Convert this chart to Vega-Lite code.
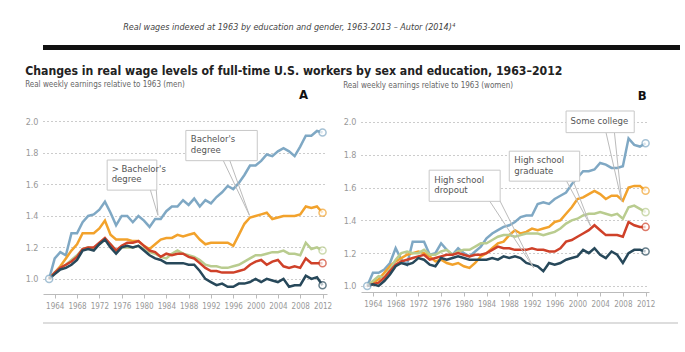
{
"$schema": "https://vega.github.io/schema/vega-lite/v6.json",
"background": "white",
"padding": {"left": 25, "top": 23, "right": 10, "bottom": 5},
"spacing": 15,
"config": {"font": "DejaVu Sans Condensed, Roboto, sans-serif", "view": {"stroke": null}, "axis": {"labelOverlap": false}},
"title": {"text": "Real wages indexed at 1963 by education and gender, 1963-2013 – Autor (2014)⁴", "fontStyle": "italic", "fontWeight": "normal", "fontSize": 9, "color": "#444", "anchor": "start", "dx": 98, "offset": 13, "frame": "bounds"},
"datasets": {
"men": [
{"year":1963,"edu":"adv","wage":1.00},{"year":1964,"edu":"adv","wage":1.13},{"year":1965,"edu":"adv","wage":1.17},{"year":1966,"edu":"adv","wage":1.15},{"year":1967,"edu":"adv","wage":1.29},{"year":1968,"edu":"adv","wage":1.29},{"year":1969,"edu":"adv","wage":1.36},{"year":1970,"edu":"adv","wage":1.40},{"year":1971,"edu":"adv","wage":1.41},{"year":1972,"edu":"adv","wage":1.44},
{"year":1973,"edu":"adv","wage":1.49},{"year":1974,"edu":"adv","wage":1.42},{"year":1975,"edu":"adv","wage":1.34},{"year":1976,"edu":"adv","wage":1.40},{"year":1977,"edu":"adv","wage":1.40},{"year":1978,"edu":"adv","wage":1.36},{"year":1979,"edu":"adv","wage":1.40},{"year":1980,"edu":"adv","wage":1.37},{"year":1981,"edu":"adv","wage":1.33},{"year":1982,"edu":"adv","wage":1.38},
{"year":1983,"edu":"adv","wage":1.38},{"year":1984,"edu":"adv","wage":1.43},{"year":1985,"edu":"adv","wage":1.46},{"year":1986,"edu":"adv","wage":1.46},{"year":1987,"edu":"adv","wage":1.50},{"year":1988,"edu":"adv","wage":1.47},{"year":1989,"edu":"adv","wage":1.51},{"year":1990,"edu":"adv","wage":1.46},{"year":1991,"edu":"adv","wage":1.50},{"year":1992,"edu":"adv","wage":1.48},
{"year":1993,"edu":"adv","wage":1.52},{"year":1994,"edu":"adv","wage":1.55},{"year":1995,"edu":"adv","wage":1.59},{"year":1996,"edu":"adv","wage":1.57},{"year":1997,"edu":"adv","wage":1.61},{"year":1998,"edu":"adv","wage":1.66},{"year":1999,"edu":"adv","wage":1.72},{"year":2000,"edu":"adv","wage":1.72},{"year":2001,"edu":"adv","wage":1.75},{"year":2002,"edu":"adv","wage":1.79},
{"year":2003,"edu":"adv","wage":1.78},{"year":2004,"edu":"adv","wage":1.81},{"year":2005,"edu":"adv","wage":1.83},{"year":2006,"edu":"adv","wage":1.81},{"year":2007,"edu":"adv","wage":1.78},{"year":2008,"edu":"adv","wage":1.84},{"year":2009,"edu":"adv","wage":1.91},{"year":2010,"edu":"adv","wage":1.91},{"year":2011,"edu":"adv","wage":1.94},{"year":2012,"edu":"adv","wage":1.93},
{"year":1963,"edu":"ba","wage":1.00},{"year":1964,"edu":"ba","wage":1.04},{"year":1965,"edu":"ba","wage":1.08},{"year":1966,"edu":"ba","wage":1.13},{"year":1967,"edu":"ba","wage":1.18},{"year":1968,"edu":"ba","wage":1.22},{"year":1969,"edu":"ba","wage":1.29},{"year":1970,"edu":"ba","wage":1.29},{"year":1971,"edu":"ba","wage":1.29},{"year":1972,"edu":"ba","wage":1.32},
{"year":1973,"edu":"ba","wage":1.37},{"year":1974,"edu":"ba","wage":1.28},{"year":1975,"edu":"ba","wage":1.25},{"year":1976,"edu":"ba","wage":1.25},{"year":1977,"edu":"ba","wage":1.25},{"year":1978,"edu":"ba","wage":1.24},{"year":1979,"edu":"ba","wage":1.24},{"year":1980,"edu":"ba","wage":1.21},{"year":1981,"edu":"ba","wage":1.19},{"year":1982,"edu":"ba","wage":1.22},
{"year":1983,"edu":"ba","wage":1.25},{"year":1984,"edu":"ba","wage":1.26},{"year":1985,"edu":"ba","wage":1.26},{"year":1986,"edu":"ba","wage":1.28},{"year":1987,"edu":"ba","wage":1.27},{"year":1988,"edu":"ba","wage":1.28},{"year":1989,"edu":"ba","wage":1.29},{"year":1990,"edu":"ba","wage":1.25},{"year":1991,"edu":"ba","wage":1.22},{"year":1992,"edu":"ba","wage":1.23},
{"year":1993,"edu":"ba","wage":1.23},{"year":1994,"edu":"ba","wage":1.23},{"year":1995,"edu":"ba","wage":1.23},{"year":1996,"edu":"ba","wage":1.21},{"year":1997,"edu":"ba","wage":1.28},{"year":1998,"edu":"ba","wage":1.35},{"year":1999,"edu":"ba","wage":1.39},{"year":2000,"edu":"ba","wage":1.40},{"year":2001,"edu":"ba","wage":1.41},{"year":2002,"edu":"ba","wage":1.42},
{"year":2003,"edu":"ba","wage":1.38},{"year":2004,"edu":"ba","wage":1.39},{"year":2005,"edu":"ba","wage":1.40},{"year":2006,"edu":"ba","wage":1.40},{"year":2007,"edu":"ba","wage":1.40},{"year":2008,"edu":"ba","wage":1.41},{"year":2009,"edu":"ba","wage":1.46},{"year":2010,"edu":"ba","wage":1.45},{"year":2011,"edu":"ba","wage":1.46},{"year":2012,"edu":"ba","wage":1.42},
{"year":1963,"edu":"sc","wage":1.00},{"year":1964,"edu":"sc","wage":1.04},{"year":1965,"edu":"sc","wage":1.07},{"year":1966,"edu":"sc","wage":1.09},{"year":1967,"edu":"sc","wage":1.12},{"year":1968,"edu":"sc","wage":1.15},{"year":1969,"edu":"sc","wage":1.19},{"year":1970,"edu":"sc","wage":1.20},{"year":1971,"edu":"sc","wage":1.19},{"year":1972,"edu":"sc","wage":1.22},
{"year":1973,"edu":"sc","wage":1.25},{"year":1974,"edu":"sc","wage":1.22},{"year":1975,"edu":"sc","wage":1.18},{"year":1976,"edu":"sc","wage":1.20},{"year":1977,"edu":"sc","wage":1.20},{"year":1978,"edu":"sc","wage":1.20},{"year":1979,"edu":"sc","wage":1.21},{"year":1980,"edu":"sc","wage":1.19},{"year":1981,"edu":"sc","wage":1.17},{"year":1982,"edu":"sc","wage":1.16},
{"year":1983,"edu":"sc","wage":1.14},{"year":1984,"edu":"sc","wage":1.13},{"year":1985,"edu":"sc","wage":1.16},{"year":1986,"edu":"sc","wage":1.18},{"year":1987,"edu":"sc","wage":1.16},{"year":1988,"edu":"sc","wage":1.15},{"year":1989,"edu":"sc","wage":1.14},{"year":1990,"edu":"sc","wage":1.12},{"year":1991,"edu":"sc","wage":1.09},{"year":1992,"edu":"sc","wage":1.08},
{"year":1993,"edu":"sc","wage":1.08},{"year":1994,"edu":"sc","wage":1.07},{"year":1995,"edu":"sc","wage":1.07},{"year":1996,"edu":"sc","wage":1.08},{"year":1997,"edu":"sc","wage":1.09},{"year":1998,"edu":"sc","wage":1.11},{"year":1999,"edu":"sc","wage":1.13},{"year":2000,"edu":"sc","wage":1.15},{"year":2001,"edu":"sc","wage":1.15},{"year":2002,"edu":"sc","wage":1.16},
{"year":2003,"edu":"sc","wage":1.17},{"year":2004,"edu":"sc","wage":1.17},{"year":2005,"edu":"sc","wage":1.18},{"year":2006,"edu":"sc","wage":1.16},{"year":2007,"edu":"sc","wage":1.16},{"year":2008,"edu":"sc","wage":1.15},{"year":2009,"edu":"sc","wage":1.23},{"year":2010,"edu":"sc","wage":1.19},{"year":2011,"edu":"sc","wage":1.20},{"year":2012,"edu":"sc","wage":1.18},
{"year":1963,"edu":"hsg","wage":1.00},{"year":1964,"edu":"hsg","wage":1.04},{"year":1965,"edu":"hsg","wage":1.07},{"year":1966,"edu":"hsg","wage":1.09},{"year":1967,"edu":"hsg","wage":1.11},{"year":1968,"edu":"hsg","wage":1.14},{"year":1969,"edu":"hsg","wage":1.19},{"year":1970,"edu":"hsg","wage":1.20},{"year":1971,"edu":"hsg","wage":1.20},{"year":1972,"edu":"hsg","wage":1.23},
{"year":1973,"edu":"hsg","wage":1.26},{"year":1974,"edu":"hsg","wage":1.22},{"year":1975,"edu":"hsg","wage":1.18},{"year":1976,"edu":"hsg","wage":1.21},{"year":1977,"edu":"hsg","wage":1.23},{"year":1978,"edu":"hsg","wage":1.23},{"year":1979,"edu":"hsg","wage":1.24},{"year":1980,"edu":"hsg","wage":1.21},{"year":1981,"edu":"hsg","wage":1.18},{"year":1982,"edu":"hsg","wage":1.17},
{"year":1983,"edu":"hsg","wage":1.14},{"year":1984,"edu":"hsg","wage":1.16},{"year":1985,"edu":"hsg","wage":1.15},{"year":1986,"edu":"hsg","wage":1.16},{"year":1987,"edu":"hsg","wage":1.16},{"year":1988,"edu":"hsg","wage":1.14},{"year":1989,"edu":"hsg","wage":1.13},{"year":1990,"edu":"hsg","wage":1.10},{"year":1991,"edu":"hsg","wage":1.07},{"year":1992,"edu":"hsg","wage":1.05},
{"year":1993,"edu":"hsg","wage":1.05},{"year":1994,"edu":"hsg","wage":1.04},{"year":1995,"edu":"hsg","wage":1.04},{"year":1996,"edu":"hsg","wage":1.04},{"year":1997,"edu":"hsg","wage":1.05},{"year":1998,"edu":"hsg","wage":1.06},{"year":1999,"edu":"hsg","wage":1.09},{"year":2000,"edu":"hsg","wage":1.11},{"year":2001,"edu":"hsg","wage":1.12},{"year":2002,"edu":"hsg","wage":1.09},
{"year":2003,"edu":"hsg","wage":1.11},{"year":2004,"edu":"hsg","wage":1.12},{"year":2005,"edu":"hsg","wage":1.08},{"year":2006,"edu":"hsg","wage":1.07},{"year":2007,"edu":"hsg","wage":1.08},{"year":2008,"edu":"hsg","wage":1.07},{"year":2009,"edu":"hsg","wage":1.13},{"year":2010,"edu":"hsg","wage":1.10},{"year":2011,"edu":"hsg","wage":1.10},{"year":2012,"edu":"hsg","wage":1.10},
{"year":1963,"edu":"hsd","wage":1.00},{"year":1964,"edu":"hsd","wage":1.03},{"year":1965,"edu":"hsd","wage":1.06},{"year":1966,"edu":"hsd","wage":1.07},{"year":1967,"edu":"hsd","wage":1.09},{"year":1968,"edu":"hsd","wage":1.12},{"year":1969,"edu":"hsd","wage":1.18},{"year":1970,"edu":"hsd","wage":1.19},{"year":1971,"edu":"hsd","wage":1.18},{"year":1972,"edu":"hsd","wage":1.22},
{"year":1973,"edu":"hsd","wage":1.25},{"year":1974,"edu":"hsd","wage":1.20},{"year":1975,"edu":"hsd","wage":1.16},{"year":1976,"edu":"hsd","wage":1.20},{"year":1977,"edu":"hsd","wage":1.21},{"year":1978,"edu":"hsd","wage":1.20},{"year":1979,"edu":"hsd","wage":1.21},{"year":1980,"edu":"hsd","wage":1.18},{"year":1981,"edu":"hsd","wage":1.15},{"year":1982,"edu":"hsd","wage":1.13},
{"year":1983,"edu":"hsd","wage":1.12},{"year":1984,"edu":"hsd","wage":1.10},{"year":1985,"edu":"hsd","wage":1.10},{"year":1986,"edu":"hsd","wage":1.10},{"year":1987,"edu":"hsd","wage":1.10},{"year":1988,"edu":"hsd","wage":1.09},{"year":1989,"edu":"hsd","wage":1.09},{"year":1990,"edu":"hsd","wage":1.05},{"year":1991,"edu":"hsd","wage":1.00},{"year":1992,"edu":"hsd","wage":0.98},
{"year":1993,"edu":"hsd","wage":0.96},{"year":1994,"edu":"hsd","wage":0.97},{"year":1995,"edu":"hsd","wage":0.95},{"year":1996,"edu":"hsd","wage":0.95},{"year":1997,"edu":"hsd","wage":0.97},{"year":1998,"edu":"hsd","wage":0.97},{"year":1999,"edu":"hsd","wage":0.98},{"year":2000,"edu":"hsd","wage":1.00},{"year":2001,"edu":"hsd","wage":0.98},{"year":2002,"edu":"hsd","wage":1.00},
{"year":2003,"edu":"hsd","wage":0.99},{"year":2004,"edu":"hsd","wage":0.98},{"year":2005,"edu":"hsd","wage":1.00},{"year":2006,"edu":"hsd","wage":0.95},{"year":2007,"edu":"hsd","wage":0.96},{"year":2008,"edu":"hsd","wage":0.96},{"year":2009,"edu":"hsd","wage":1.02},{"year":2010,"edu":"hsd","wage":1.00},{"year":2011,"edu":"hsd","wage":1.01},{"year":2012,"edu":"hsd","wage":0.96}
],
"women": [
{"year":1963,"edu":"adv","wage":1.00},{"year":1964,"edu":"adv","wage":1.08},{"year":1965,"edu":"adv","wage":1.08},{"year":1966,"edu":"adv","wage":1.10},{"year":1967,"edu":"adv","wage":1.14},{"year":1968,"edu":"adv","wage":1.23},{"year":1969,"edu":"adv","wage":1.16},{"year":1970,"edu":"adv","wage":1.13},{"year":1971,"edu":"adv","wage":1.27},{"year":1972,"edu":"adv","wage":1.27},
{"year":1973,"edu":"adv","wage":1.27},{"year":1974,"edu":"adv","wage":1.19},{"year":1975,"edu":"adv","wage":1.20},{"year":1976,"edu":"adv","wage":1.26},{"year":1977,"edu":"adv","wage":1.22},{"year":1978,"edu":"adv","wage":1.19},{"year":1979,"edu":"adv","wage":1.23},{"year":1980,"edu":"adv","wage":1.20},{"year":1981,"edu":"adv","wage":1.18},{"year":1982,"edu":"adv","wage":1.21},
{"year":1983,"edu":"adv","wage":1.24},{"year":1984,"edu":"adv","wage":1.29},{"year":1985,"edu":"adv","wage":1.32},{"year":1986,"edu":"adv","wage":1.34},{"year":1987,"edu":"adv","wage":1.36},{"year":1988,"edu":"adv","wage":1.37},{"year":1989,"edu":"adv","wage":1.39},{"year":1990,"edu":"adv","wage":1.42},{"year":1991,"edu":"adv","wage":1.43},{"year":1992,"edu":"adv","wage":1.43},
{"year":1993,"edu":"adv","wage":1.50},{"year":1994,"edu":"adv","wage":1.51},{"year":1995,"edu":"adv","wage":1.50},{"year":1996,"edu":"adv","wage":1.53},{"year":1997,"edu":"adv","wage":1.55},{"year":1998,"edu":"adv","wage":1.57},{"year":1999,"edu":"adv","wage":1.62},{"year":2000,"edu":"adv","wage":1.66},{"year":2001,"edu":"adv","wage":1.70},{"year":2002,"edu":"adv","wage":1.70},
{"year":2003,"edu":"adv","wage":1.71},{"year":2004,"edu":"adv","wage":1.75},{"year":2005,"edu":"adv","wage":1.74},{"year":2006,"edu":"adv","wage":1.72},{"year":2007,"edu":"adv","wage":1.72},{"year":2008,"edu":"adv","wage":1.73},{"year":2009,"edu":"adv","wage":1.90},{"year":2010,"edu":"adv","wage":1.86},{"year":2011,"edu":"adv","wage":1.85},{"year":2012,"edu":"adv","wage":1.87},
{"year":1963,"edu":"ba","wage":1.00},{"year":1964,"edu":"ba","wage":1.02},{"year":1965,"edu":"ba","wage":1.04},{"year":1966,"edu":"ba","wage":1.08},{"year":1967,"edu":"ba","wage":1.12},{"year":1968,"edu":"ba","wage":1.15},{"year":1969,"edu":"ba","wage":1.17},{"year":1970,"edu":"ba","wage":1.19},{"year":1971,"edu":"ba","wage":1.20},{"year":1972,"edu":"ba","wage":1.21},
{"year":1973,"edu":"ba","wage":1.20},{"year":1974,"edu":"ba","wage":1.18},{"year":1975,"edu":"ba","wage":1.15},{"year":1976,"edu":"ba","wage":1.16},{"year":1977,"edu":"ba","wage":1.14},{"year":1978,"edu":"ba","wage":1.13},{"year":1979,"edu":"ba","wage":1.14},{"year":1980,"edu":"ba","wage":1.12},{"year":1981,"edu":"ba","wage":1.11},{"year":1982,"edu":"ba","wage":1.14},
{"year":1983,"edu":"ba","wage":1.18},{"year":1984,"edu":"ba","wage":1.20},{"year":1985,"edu":"ba","wage":1.23},{"year":1986,"edu":"ba","wage":1.26},{"year":1987,"edu":"ba","wage":1.27},{"year":1988,"edu":"ba","wage":1.31},{"year":1989,"edu":"ba","wage":1.34},{"year":1990,"edu":"ba","wage":1.32},{"year":1991,"edu":"ba","wage":1.33},{"year":1992,"edu":"ba","wage":1.35},
{"year":1993,"edu":"ba","wage":1.34},{"year":1994,"edu":"ba","wage":1.35},{"year":1995,"edu":"ba","wage":1.36},{"year":1996,"edu":"ba","wage":1.39},{"year":1997,"edu":"ba","wage":1.40},{"year":1998,"edu":"ba","wage":1.44},{"year":1999,"edu":"ba","wage":1.48},{"year":2000,"edu":"ba","wage":1.53},{"year":2001,"edu":"ba","wage":1.54},{"year":2002,"edu":"ba","wage":1.56},
{"year":2003,"edu":"ba","wage":1.58},{"year":2004,"edu":"ba","wage":1.56},{"year":2005,"edu":"ba","wage":1.53},{"year":2006,"edu":"ba","wage":1.55},{"year":2007,"edu":"ba","wage":1.55},{"year":2008,"edu":"ba","wage":1.52},{"year":2009,"edu":"ba","wage":1.60},{"year":2010,"edu":"ba","wage":1.61},{"year":2011,"edu":"ba","wage":1.61},{"year":2012,"edu":"ba","wage":1.58},
{"year":1963,"edu":"sc","wage":1.00},{"year":1964,"edu":"sc","wage":1.03},{"year":1965,"edu":"sc","wage":1.06},{"year":1966,"edu":"sc","wage":1.05},{"year":1967,"edu":"sc","wage":1.10},{"year":1968,"edu":"sc","wage":1.16},{"year":1969,"edu":"sc","wage":1.20},{"year":1970,"edu":"sc","wage":1.21},{"year":1971,"edu":"sc","wage":1.20},{"year":1972,"edu":"sc","wage":1.20},
{"year":1973,"edu":"sc","wage":1.22},{"year":1974,"edu":"sc","wage":1.19},{"year":1975,"edu":"sc","wage":1.19},{"year":1976,"edu":"sc","wage":1.21},{"year":1977,"edu":"sc","wage":1.22},{"year":1978,"edu":"sc","wage":1.19},{"year":1979,"edu":"sc","wage":1.21},{"year":1980,"edu":"sc","wage":1.22},{"year":1981,"edu":"sc","wage":1.22},{"year":1982,"edu":"sc","wage":1.24},
{"year":1983,"edu":"sc","wage":1.26},{"year":1984,"edu":"sc","wage":1.26},{"year":1985,"edu":"sc","wage":1.28},{"year":1986,"edu":"sc","wage":1.30},{"year":1987,"edu":"sc","wage":1.31},{"year":1988,"edu":"sc","wage":1.31},{"year":1989,"edu":"sc","wage":1.30},{"year":1990,"edu":"sc","wage":1.31},{"year":1991,"edu":"sc","wage":1.32},{"year":1992,"edu":"sc","wage":1.32},
{"year":1993,"edu":"sc","wage":1.32},{"year":1994,"edu":"sc","wage":1.31},{"year":1995,"edu":"sc","wage":1.32},{"year":1996,"edu":"sc","wage":1.33},{"year":1997,"edu":"sc","wage":1.35},{"year":1998,"edu":"sc","wage":1.38},{"year":1999,"edu":"sc","wage":1.40},{"year":2000,"edu":"sc","wage":1.41},{"year":2001,"edu":"sc","wage":1.43},{"year":2002,"edu":"sc","wage":1.44},
{"year":2003,"edu":"sc","wage":1.44},{"year":2004,"edu":"sc","wage":1.45},{"year":2005,"edu":"sc","wage":1.44},{"year":2006,"edu":"sc","wage":1.43},{"year":2007,"edu":"sc","wage":1.44},{"year":2008,"edu":"sc","wage":1.41},{"year":2009,"edu":"sc","wage":1.48},{"year":2010,"edu":"sc","wage":1.49},{"year":2011,"edu":"sc","wage":1.47},{"year":2012,"edu":"sc","wage":1.45},
{"year":1963,"edu":"hsg","wage":1.00},{"year":1964,"edu":"hsg","wage":1.01},{"year":1965,"edu":"hsg","wage":1.02},{"year":1966,"edu":"hsg","wage":1.05},{"year":1967,"edu":"hsg","wage":1.09},{"year":1968,"edu":"hsg","wage":1.13},{"year":1969,"edu":"hsg","wage":1.15},{"year":1970,"edu":"hsg","wage":1.16},{"year":1971,"edu":"hsg","wage":1.17},{"year":1972,"edu":"hsg","wage":1.18},
{"year":1973,"edu":"hsg","wage":1.19},{"year":1974,"edu":"hsg","wage":1.16},{"year":1975,"edu":"hsg","wage":1.17},{"year":1976,"edu":"hsg","wage":1.18},{"year":1977,"edu":"hsg","wage":1.19},{"year":1978,"edu":"hsg","wage":1.19},{"year":1979,"edu":"hsg","wage":1.20},{"year":1980,"edu":"hsg","wage":1.19},{"year":1981,"edu":"hsg","wage":1.18},{"year":1982,"edu":"hsg","wage":1.19},
{"year":1983,"edu":"hsg","wage":1.19},{"year":1984,"edu":"hsg","wage":1.20},{"year":1985,"edu":"hsg","wage":1.22},{"year":1986,"edu":"hsg","wage":1.24},{"year":1987,"edu":"hsg","wage":1.23},{"year":1988,"edu":"hsg","wage":1.23},{"year":1989,"edu":"hsg","wage":1.22},{"year":1990,"edu":"hsg","wage":1.22},{"year":1991,"edu":"hsg","wage":1.22},{"year":1992,"edu":"hsg","wage":1.23},
{"year":1993,"edu":"hsg","wage":1.22},{"year":1994,"edu":"hsg","wage":1.22},{"year":1995,"edu":"hsg","wage":1.21},{"year":1996,"edu":"hsg","wage":1.21},{"year":1997,"edu":"hsg","wage":1.23},{"year":1998,"edu":"hsg","wage":1.27},{"year":1999,"edu":"hsg","wage":1.28},{"year":2000,"edu":"hsg","wage":1.30},{"year":2001,"edu":"hsg","wage":1.32},{"year":2002,"edu":"hsg","wage":1.34},
{"year":2003,"edu":"hsg","wage":1.37},{"year":2004,"edu":"hsg","wage":1.34},{"year":2005,"edu":"hsg","wage":1.31},{"year":2006,"edu":"hsg","wage":1.31},{"year":2007,"edu":"hsg","wage":1.31},{"year":2008,"edu":"hsg","wage":1.30},{"year":2009,"edu":"hsg","wage":1.39},{"year":2010,"edu":"hsg","wage":1.37},{"year":2011,"edu":"hsg","wage":1.36},{"year":2012,"edu":"hsg","wage":1.36},
{"year":1963,"edu":"hsd","wage":1.00},{"year":1964,"edu":"hsd","wage":1.01},{"year":1965,"edu":"hsd","wage":1.00},{"year":1966,"edu":"hsd","wage":1.03},{"year":1967,"edu":"hsd","wage":1.07},{"year":1968,"edu":"hsd","wage":1.12},{"year":1969,"edu":"hsd","wage":1.14},{"year":1970,"edu":"hsd","wage":1.13},{"year":1971,"edu":"hsd","wage":1.14},{"year":1972,"edu":"hsd","wage":1.17},
{"year":1973,"edu":"hsd","wage":1.16},{"year":1974,"edu":"hsd","wage":1.13},{"year":1975,"edu":"hsd","wage":1.12},{"year":1976,"edu":"hsd","wage":1.17},{"year":1977,"edu":"hsd","wage":1.16},{"year":1978,"edu":"hsd","wage":1.17},{"year":1979,"edu":"hsd","wage":1.18},{"year":1980,"edu":"hsd","wage":1.17},{"year":1981,"edu":"hsd","wage":1.16},{"year":1982,"edu":"hsd","wage":1.16},
{"year":1983,"edu":"hsd","wage":1.16},{"year":1984,"edu":"hsd","wage":1.16},{"year":1985,"edu":"hsd","wage":1.17},{"year":1986,"edu":"hsd","wage":1.16},{"year":1987,"edu":"hsd","wage":1.18},{"year":1988,"edu":"hsd","wage":1.17},{"year":1989,"edu":"hsd","wage":1.18},{"year":1990,"edu":"hsd","wage":1.17},{"year":1991,"edu":"hsd","wage":1.14},{"year":1992,"edu":"hsd","wage":1.13},
{"year":1993,"edu":"hsd","wage":1.12},{"year":1994,"edu":"hsd","wage":1.09},{"year":1995,"edu":"hsd","wage":1.14},{"year":1996,"edu":"hsd","wage":1.13},{"year":1997,"edu":"hsd","wage":1.14},{"year":1998,"edu":"hsd","wage":1.16},{"year":1999,"edu":"hsd","wage":1.17},{"year":2000,"edu":"hsd","wage":1.18},{"year":2001,"edu":"hsd","wage":1.22},{"year":2002,"edu":"hsd","wage":1.20},
{"year":2003,"edu":"hsd","wage":1.23},{"year":2004,"edu":"hsd","wage":1.19},{"year":2005,"edu":"hsd","wage":1.17},{"year":2006,"edu":"hsd","wage":1.21},{"year":2007,"edu":"hsd","wage":1.19},{"year":2008,"edu":"hsd","wage":1.14},{"year":2009,"edu":"hsd","wage":1.20},{"year":2010,"edu":"hsd","wage":1.22},{"year":2011,"edu":"hsd","wage":1.22},{"year":2012,"edu":"hsd","wage":1.21}
],
"men_boxes": [
{"x1":1973.4,"x2":1982.3,"y1":1.564,"y2":1.755},
{"x1":1987.5,"x2":2000.3,"y1":1.751,"y2":1.943}
],
"men_tails": [
{"x1":1981.1,"y1":1.57,"x2":1982.5,"y2":1.404},
{"x1":1982.2,"y1":1.57,"x2":1982.5,"y2":1.404},
{"x1":1994.1,"y1":1.76,"x2":1998.9,"y2":1.404},
{"x1":1995.3,"y1":1.76,"x2":1998.9,"y2":1.404}
],
"men_labels": [
{"x":1974.2,"y":1.696,"label":"> Bachelor's"},
{"x":1974.2,"y":1.632,"label":"degree"},
{"x":1988.4,"y":1.887,"label":"Bachelor's"},
{"x":1988.4,"y":1.817,"label":"degree"}
],
"women_boxes": [
{"x1":1973.9,"x2":1986.4,"y1":1.516,"y2":1.706},
{"x1":1988.0,"x2":2000.4,"y1":1.639,"y2":1.822},
{"x1":1998.0,"x2":2010.0,"y1":1.935,"y2":2.067}
],
"women_tails": [
{"x1":1984.5,"y1":1.52,"x2":1992.3,"y2":1.11},
{"x1":1986.2,"y1":1.53,"x2":1992.3,"y2":1.11},
{"x1":1998.0,"y1":1.645,"x2":2002.3,"y2":1.367},
{"x1":1999.2,"y1":1.645,"x2":2002.3,"y2":1.367},
{"x1":2005.0,"y1":1.94,"x2":2007.8,"y2":1.516},
{"x1":2006.5,"y1":1.94,"x2":2007.8,"y2":1.516}
],
"women_labels": [
{"x":1974.8,"y":1.649,"label":"High school"},
{"x":1974.8,"y":1.584,"label":"dropout"},
{"x":1988.9,"y":1.771,"label":"High school"},
{"x":1988.9,"y":1.704,"label":"graduate"},
{"x":1998.8,"y":2.003,"label":"Some college"}
],
"men_letter": [{"x":2008.6,"y":2.166,"label":"A"}],
"women_letter": [{"x":2011.4,"y":2.158,"label":"B"}]
},
"vconcat": [
{"width": 637, "height": 5, "data": {"values": [{}]}, "mark": {"type": "rect", "color": "#111"}, "encoding": {}},
{
"spacing": 12,
"vconcat": [
{
"title": {"text": "Changes in real wage levels of full-time U.S. workers by sex and education, 1963–2012", "anchor": "start", "frame": "bounds", "fontSize": 12.2, "fontWeight": "bold", "color": "#222", "offset": 4},
"spacing": 11,
"hconcat": [
{
"width": 284, "height": 204,
"title": {"text": "Real weekly earnings relative to 1963 (men)", "anchor": "start", "frame": "bounds", "fontSize": 8, "fontWeight": "normal", "color": "#666", "offset": 0},
"layer": [
{"data": {"name": "men"}, "mark": {"type": "line", "strokeWidth": 2.5}, "encoding": {
"x": {"field": "year", "type": "quantitative", "scale": {"domain": [1961.9, 2012.8], "nice": false, "zero": false}, "axis": {"values": [1964,1968,1972,1976,1980,1984,1988,1992,1996,2000,2004,2008,2012], "tickCount": 20, "format": "d", "title": null, "grid": false, "domainColor": "#bbb", "tickColor": "#bbb", "tickSize": 4, "labelColor": "#999", "labelFontSize": 8, "labelPadding": 4, "labelFlush": false, "labelOverlap": false}},
"y": {"field": "wage", "type": "quantitative", "scale": {"domain": [0.904, 2.2], "nice": false, "zero": false}, "axis": {"values": [1, 1.2, 1.4, 1.6, 1.8, 2], "tickCount": 10, "format": ".1f", "title": null, "domain": false, "ticks": false, "gridDash": [1, 3], "gridColor": "#999", "labelColor": "#999", "labelFontSize": 9, "labelPadding": 5}},
"color": {"field": "edu", "type": "nominal", "scale": {"domain": ["adv","ba","sc","hsg","hsd"], "range": ["#7fa8c4","#f2a22c","#b9cc8f","#cf4129","#27485a"]}, "legend": null}}},
{"data": {"name": "men"}, "transform": [{"filter": "datum.year == 2012 || (datum.year == 1963 && datum.edu == 'adv')"}], "mark": {"type": "point", "filled": true, "fill": "white", "size": 50, "strokeWidth": 1.5}, "encoding": {
"x": {"field": "year", "type": "quantitative"},
"y": {"field": "wage", "type": "quantitative"},
"stroke": {"field": "edu", "type": "nominal", "scale": {"domain": ["adv","ba","sc","hsg","hsd"], "range": ["#7fa8c4","#f2a22c","#b9cc8f","#cf4129","#27485a"]}, "legend": null}}},
{"data": {"name": "men_tails"}, "mark": {"type": "rule", "color": "#bbb", "strokeWidth": 1}, "encoding": {"x": {"field": "x1", "type": "quantitative"}, "y": {"field": "y1", "type": "quantitative"}, "x2": {"field": "x2"}, "y2": {"field": "y2"}}},
{"data": {"name": "men_boxes"}, "mark": {"type": "rect", "fill": "white", "stroke": "#c8c8c8", "strokeWidth": 1}, "encoding": {"x": {"field": "x1", "type": "quantitative"}, "x2": {"field": "x2"}, "y": {"field": "y1", "type": "quantitative"}, "y2": {"field": "y2"}}},
{"data": {"name": "men_labels"}, "mark": {"type": "text", "align": "left", "baseline": "middle", "fontSize": 9.5, "color": "#555"}, "encoding": {"x": {"field": "x", "type": "quantitative"}, "y": {"field": "y", "type": "quantitative"}, "text": {"field": "label"}}},
{"data": {"name": "men_letter"}, "mark": {"type": "text", "align": "center", "baseline": "middle", "fontSize": 13, "fontWeight": "bold", "color": "#111"}, "encoding": {"x": {"field": "x", "type": "quantitative"}, "y": {"field": "y", "type": "quantitative"}, "text": {"field": "label"}}}
]
},
{
"width": 288, "height": 202,
"title": {"text": "Real weekly earnings relative to 1963 (women)", "anchor": "start", "frame": "bounds", "fontSize": 8, "fontWeight": "normal", "color": "#666", "offset": 0},
"layer": [
{"data": {"name": "women"}, "mark": {"type": "line", "strokeWidth": 2.5}, "encoding": {
"x": {"field": "year", "type": "quantitative", "scale": {"domain": [1961.9, 2012.6], "nice": false, "zero": false}, "axis": {"values": [1964,1968,1972,1976,1980,1984,1988,1992,1996,2000,2004,2008,2012], "tickCount": 20, "format": "d", "title": null, "grid": false, "domainColor": "#bbb", "tickColor": "#bbb", "tickSize": 4, "labelColor": "#999", "labelFontSize": 8, "labelPadding": 4, "labelFlush": false, "labelOverlap": false}},
"y": {"field": "wage", "type": "quantitative", "scale": {"domain": [0.963, 2.195], "nice": false, "zero": false}, "axis": {"values": [1, 1.2, 1.4, 1.6, 1.8, 2], "tickCount": 10, "format": ".1f", "title": null, "domain": false, "ticks": false, "gridDash": [1, 3], "gridColor": "#999", "labelColor": "#999", "labelFontSize": 9, "labelPadding": 5}},
"color": {"field": "edu", "type": "nominal", "scale": {"domain": ["adv","ba","sc","hsg","hsd"], "range": ["#7fa8c4","#f2a22c","#b9cc8f","#cf4129","#27485a"]}, "legend": null}}},
{"data": {"name": "women"}, "transform": [{"filter": "datum.year == 2012 || (datum.year == 1963 && datum.edu == 'adv')"}], "mark": {"type": "point", "filled": true, "fill": "white", "size": 50, "strokeWidth": 1.5}, "encoding": {
"x": {"field": "year", "type": "quantitative"},
"y": {"field": "wage", "type": "quantitative"},
"stroke": {"field": "edu", "type": "nominal", "scale": {"domain": ["adv","ba","sc","hsg","hsd"], "range": ["#7fa8c4","#f2a22c","#b9cc8f","#cf4129","#27485a"]}, "legend": null}}},
{"data": {"name": "women_tails"}, "mark": {"type": "rule", "color": "#bbb", "strokeWidth": 1}, "encoding": {"x": {"field": "x1", "type": "quantitative"}, "y": {"field": "y1", "type": "quantitative"}, "x2": {"field": "x2"}, "y2": {"field": "y2"}}},
{"data": {"name": "women_boxes"}, "mark": {"type": "rect", "fill": "white", "stroke": "#c8c8c8", "strokeWidth": 1}, "encoding": {"x": {"field": "x1", "type": "quantitative"}, "x2": {"field": "x2"}, "y": {"field": "y1", "type": "quantitative"}, "y2": {"field": "y2"}}},
{"data": {"name": "women_labels"}, "mark": {"type": "text", "align": "left", "baseline": "middle", "fontSize": 9.5, "color": "#555"}, "encoding": {"x": {"field": "x", "type": "quantitative"}, "y": {"field": "y", "type": "quantitative"}, "text": {"field": "label"}}},
{"data": {"name": "women_letter"}, "mark": {"type": "text", "align": "center", "baseline": "middle", "fontSize": 13, "fontWeight": "bold", "color": "#111"}, "encoding": {"x": {"field": "x", "type": "quantitative"}, "y": {"field": "y", "type": "quantitative"}, "text": {"field": "label"}}}
]
}
]
},
{"width": 635, "height": 2, "data": {"values": [{}]}, "mark": {"type": "rect", "color": "#ddd"}, "encoding": {}}
]
}
]
}
